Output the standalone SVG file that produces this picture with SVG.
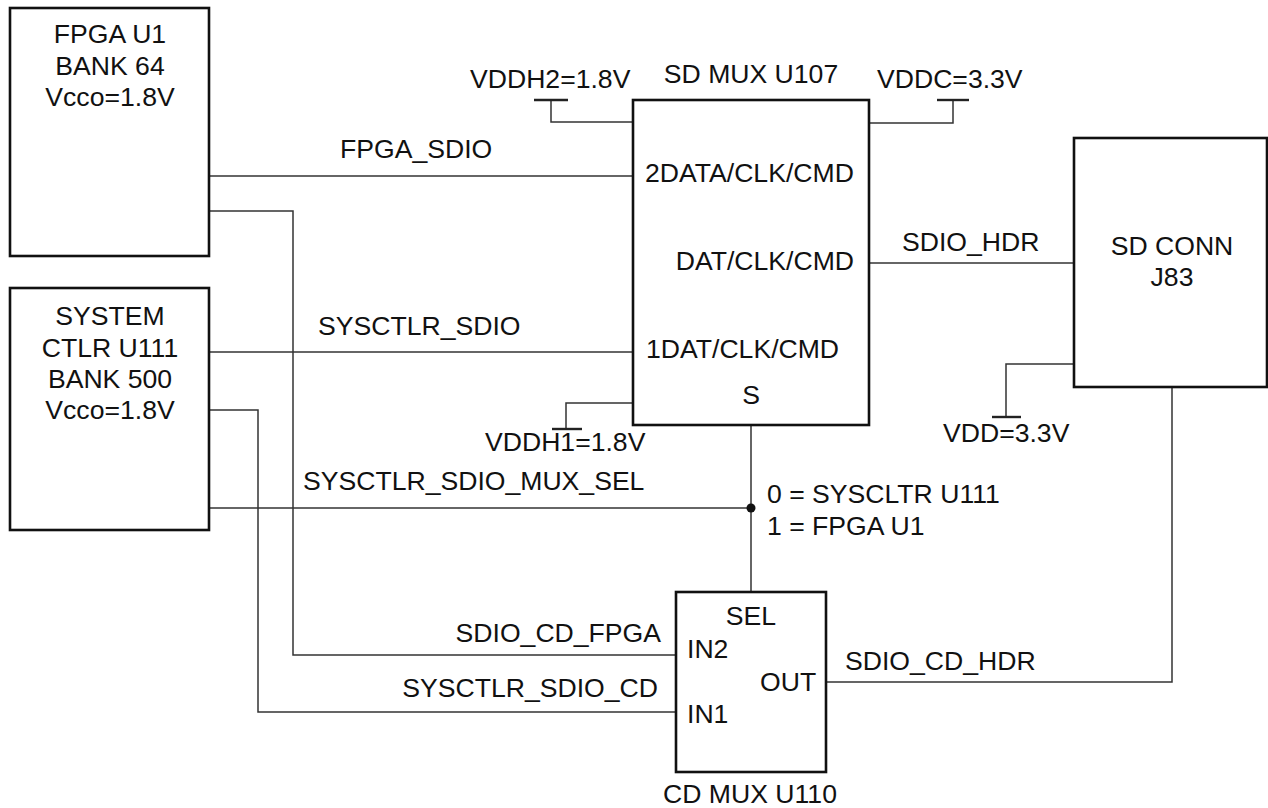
<svg xmlns="http://www.w3.org/2000/svg" width="1268" height="808" viewBox="0 0 1268 808">
<style>
text{font-family:"Liberation Sans",Arial,sans-serif;font-size:26.6px;fill:#111}
.box{fill:#fff;stroke:#111;stroke-width:2.6}
.w{fill:none;stroke:#333;stroke-width:1.5}
.bar{stroke:#222;stroke-width:2.4}
.m{text-anchor:middle}
.e{text-anchor:end}
</style>
<rect width="1268" height="808" fill="#fff"/>
<g id="connectors">
<path class="w" d="M209,176H633"/>
<path class="w" d="M209,211H293V655H676"/>
<path class="w" d="M209,352H633"/>
<path class="w" d="M209,410H258V712H676"/>
<path class="w" d="M209,508H751"/>
<path class="w" d="M751,425V592"/>
<circle cx="751" cy="508" r="4.5" fill="#111"/>
<path class="w" d="M869,263H1074"/>
<path class="w" d="M826,682H1172V387"/>
<path class="w" d="M633,122H551V100"/>
<path class="w" d="M869,123H953V100"/>
<path class="w" d="M633,403H566V429"/>
<path class="w" d="M1074,364H1006V417"/>
</g>
<g id="power">
<line class="bar" x1="534" y1="100" x2="568" y2="100"/>
<line class="bar" x1="937" y1="100" x2="969" y2="100"/>
<line class="bar" x1="552" y1="429" x2="582" y2="429"/>
<line class="bar" x1="992" y1="417" x2="1021" y2="417"/>
<text x="470" y="88">VDDH2=1.8V</text>
<text x="877" y="88">VDDC=3.3V</text>
<text x="485" y="451">VDDH1=1.8V</text>
<text x="943" y="442">VDD=3.3V</text>
</g>
<g id="labels">
<text x="340" y="158">FPGA_SDIO</text>
<text x="318" y="335">SYSCTLR_SDIO</text>
<text x="303" y="490">SYSCTLR_SDIO_MUX_SEL</text>
<text x="902" y="251">SDIO_HDR</text>
<text x="845" y="670">SDIO_CD_HDR</text>
<text class="e" x="661" y="642">SDIO_CD_FPGA</text>
<text class="e" x="658" y="697">SYSCTLR_SDIO_CD</text>
<text x="767" y="503">0 = SYSCLTR U111</text>
<text x="767" y="535">1 = FPGA U1</text>
</g>
<g id="fpga">
<rect class="box" x="10" y="8" width="199" height="248"/>
<text class="m" x="110" y="43">FPGA U1</text>
<text class="m" x="110" y="75">BANK 64</text>
<text class="m" x="110" y="106">Vcco=1.8V</text>
</g>
<g id="sysctlr">
<rect class="box" x="10" y="288" width="199" height="242"/>
<text class="m" x="110" y="325">SYSTEM</text>
<text class="m" x="110" y="357">CTLR U111</text>
<text class="m" x="110" y="388">BANK 500</text>
<text class="m" x="110" y="419">Vcco=1.8V</text>
</g>
<g id="sdmux">
<rect class="box" x="633" y="100" width="236" height="325"/>
<text class="m" x="751" y="83">SD MUX U107</text>
<text x="645" y="182">2DATA/CLK/CMD</text>
<text class="e" x="854" y="270">DAT/CLK/CMD</text>
<text x="646" y="358">1DAT/CLK/CMD</text>
<text class="m" x="751" y="404">S</text>
</g>
<g id="sdconn">
<rect class="box" x="1074" y="138" width="193" height="249"/>
<text class="m" x="1172" y="255">SD CONN</text>
<text class="m" x="1172" y="286">J83</text>
</g>
<g id="cdmux">
<rect class="box" x="676" y="592" width="150" height="180"/>
<text class="m" x="751" y="625">SEL</text>
<text x="687" y="658">IN2</text>
<text x="760" y="691">OUT</text>
<text x="687" y="723">IN1</text>
<text class="m" x="750" y="803">CD MUX U110</text>
</g>
</svg>
